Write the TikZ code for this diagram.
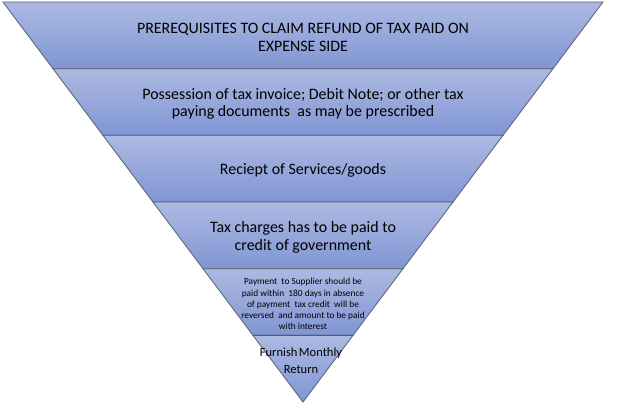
\documentclass[tikz,border=0pt]{standalone}
\usepackage{fontspec}
\setmainfont{Carlito}
\definecolor{laytop}{RGB}{172,185,226}
\definecolor{laybot}{RGB}{128,150,211}
\definecolor{layline}{RGB}{84,94,112}
\tikzset{
  layer/.style={draw=layline, line width=0.6pt, top color=laytop, bottom color=laybot},
  label/.style={align=center, text=black, inner sep=0pt}
}
\begin{document}
\begin{tikzpicture}[x=0.75pt,y=-0.75pt]

  \useasboundingbox (0,0) rectangle (626,415);

  \def\h{66.67};
  \def\cx{303};

	%draw layers
    \foreach \i in {0,...,5}{
      \draw[layer] (\cx-300+50*\i, 2+\h*\i) -- (\cx+300-50*\i, 2+\h*\i)
            -- (\cx+250-50*\i, 2+\h*\i+\h) -- (\cx-250+50*\i, 2+\h*\i+\h) -- cycle;
    }

	%texts
 \def\big{\fontsize{11.95}{13.2}\selectfont};
    \foreach \i/\txt/\name in {0/{PREREQUISITES TO CLAIM REFUND OF TAX PAID ON\\EXPENSE SIDE}/prereq,
          1/{Possession of tax invoice; Debit Note; or other tax\\paying documents\ \ as may be prescribed}/possess,
          2/{Reciept of Services/goods}/receipt,
          3/{Tax charges has to be paid to\\credit of government}/taxpaid}{
      \node[label, font=\big] (\name) at (\cx, 2+\h*\i+\h/2+2) {\txt};
    }

    \node[label, font=\fontsize{7}{8.4}\selectfont] (supplier) at (\cx, 2+\h*4+\h/2+2)
       {Payment\ \ to Supplier should be\\paid within\ \ 180 days in absence\\of payment\ \ tax credit\ \ will be\\reversed\ \ and amount to be paid\\with interest};

    \node[label, font=\fontsize{9.4}{12.8}\selectfont] (furnish) at (\cx-2, 2+\h*5+\h/2-8)
       {Furnish\hspace{-1pt} Monthly\\Return};

\end{tikzpicture}
\end{document}
